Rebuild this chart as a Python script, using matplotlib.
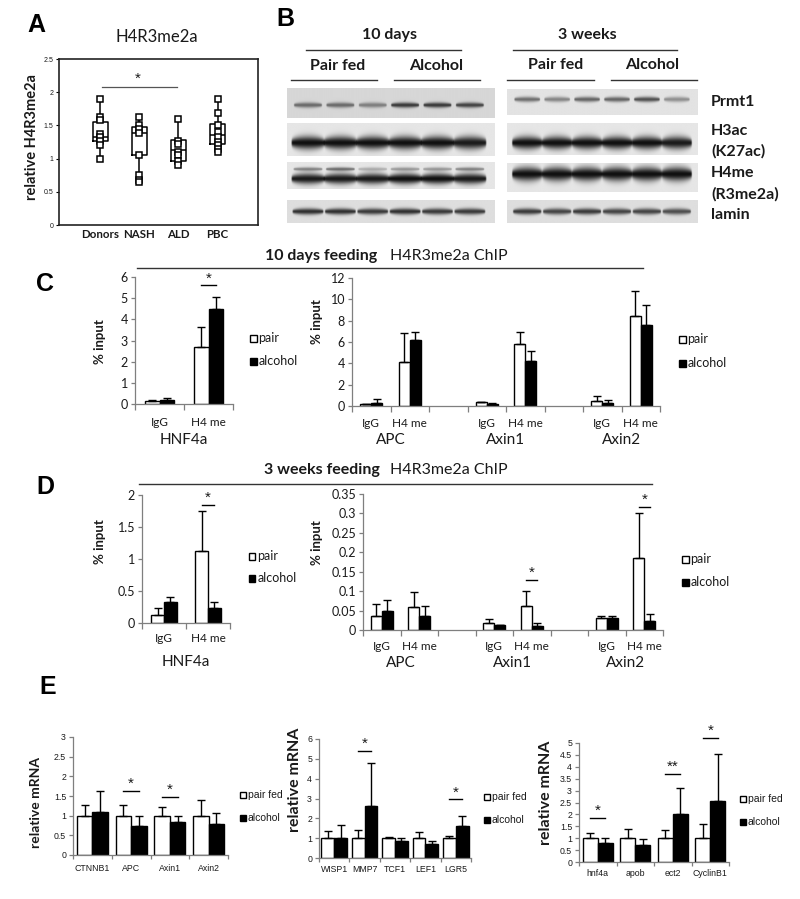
import numpy as np
import matplotlib
matplotlib.use('Agg')
import matplotlib.pyplot as plt
from matplotlib.lines import Line2D
from matplotlib.patches import Rectangle
from matplotlib.transforms import blended_transform_factory as btf

plt.rcParams['font.family'] = ['Lato', 'DejaVu Sans']

# ---------------- DATA ----------------
# Panel A: H4R3me2a box plots
A_groups = ['Donors', 'NASH', 'ALD', 'PBC']
A_donors = [1.9, 1.62, 1.58, 1.37, 1.32, 1.27, 1.2, 1.0]
A_nash = [1.62, 1.5, 1.45, 1.38, 1.05, 0.75, 0.68, 0.65]
A_ald = [1.6, 1.27, 1.22, 1.1, 1.05, 0.97, 0.9]
A_pbc = [1.9, 1.68, 1.5, 1.4, 1.33, 1.25, 1.2, 1.15, 1.1]
A_q1 = [1.27, 1.05, 0.97, 1.22]
A_med = [1.32, 1.38, 1.13, 1.36]
A_q3 = [1.55, 1.48, 1.28, 1.52]

# Panel B: western blot band intensities (6 lanes: 3 pair fed, 3 alcohol)
B_prmt1_10d = [0.55, 0.55, 0.45, 0.8, 0.8, 0.75]
B_prmt1_3w = [0.55, 0.45, 0.6, 0.6, 0.7, 0.4]
B_h3ac_10d = [1.0, 1.0, 1.0, 1.0, 1.0, 0.95]
B_h3ac_3w = [1.0, 1.0, 1.0, 1.0, 1.0, 0.95]
B_h4me_10d = [0.95, 0.95, 0.95, 1.0, 1.0, 0.95]
B_h4me_10d_upper = [0.45, 0.55, 0.25, 0.35, 0.35, 0.45]
B_h4me_3w = [1.0, 1.0, 1.0, 1.0, 1.0, 1.0]
B_lamin_10d = [0.85, 0.85, 0.8, 0.85, 0.8, 0.8]
B_lamin_3w = [0.8, 0.75, 0.8, 0.75, 0.75, 0.7]

# Panel C: 10 days feeding ChIP (% input)
CD_slots = ['IgG', 'H4 me']
C1_pair = [0.15, 2.7]
C1_pair_err = [0.05, 0.95]
C1_alc = [0.17, 4.5]
C1_alc_err = [0.1, 0.55]
C1_sig = [(1, 5.6, '*')]

C2_genes = ['APC', 'Axin1', 'Axin2']
C2_pair = [0.15, 4.1, 0.35, 5.8, 0.45, 8.4]
C2_pair_err = [0.0, 2.75, 0.0, 1.1, 0.5, 2.4]
C2_alc = [0.3, 6.2, 0.2, 4.2, 0.3, 7.55]
C2_alc_err = [0.35, 0.7, 0.1, 1.0, 0.3, 1.9]

# Panel D: 3 weeks feeding ChIP (% input)
D1_pair = [0.13, 1.13]
D1_pair_err = [0.11, 0.62]
D1_alc = [0.33, 0.23]
D1_alc_err = [0.08, 0.1]
D1_sig = [(1, 1.85, '*')]

D2_genes = ['APC', 'Axin1', 'Axin2']
D2_pair = [0.035, 0.06, 0.018, 0.062, 0.03, 0.185]
D2_pair_err = [0.032, 0.037, 0.011, 0.038, 0.006, 0.115]
D2_alc = [0.05, 0.035, 0.012, 0.01, 0.03, 0.022]
D2_alc_err = [0.026, 0.027, 0.002, 0.007, 0.005, 0.02]
D2_sig = [(3, 0.128, '*'), (5, 0.317, '*')]

# Panel E: relative mRNA
E1_genes = ['CTNNB1', 'APC', 'Axin1', 'Axin2']
E1_pair = [1.0, 1.0, 1.0, 1.0]
E1_pair_err = [0.27, 0.28, 0.22, 0.4]
E1_alc = [1.1, 0.75, 0.83, 0.78]
E1_alc_err = [0.52, 0.23, 0.17, 0.29]
E1_sig = [(1, 1.62, '*'), (2, 1.47, '*')]

E2_genes = ['WISP1', 'MMP7', 'TCF1', 'LEF1', 'LGR5']
E2_pair = [1.0, 1.0, 1.0, 1.0, 1.0]
E2_pair_err = [0.35, 0.43, 0.08, 0.3, 0.1]
E2_alc = [1.02, 2.62, 0.87, 0.73, 1.6]
E2_alc_err = [0.66, 2.16, 0.13, 0.12, 0.52]
E2_sig = [(1, 5.4, '*'), (4, 2.95, '*')]

E3_genes = ['hnf4a', 'apob', 'ect2', 'CyclinB1']
E3_pair = [1.0, 1.0, 1.0, 1.0]
E3_pair_err = [0.2, 0.38, 0.35, 0.58]
E3_alc = [0.78, 0.7, 2.02, 2.55]
E3_alc_err = [0.22, 0.27, 1.1, 2.0]
E3_sig = [(0, 1.85, '*'), (2, 3.7, '**'), (3, 5.2, '*')]

# ---------------- LAYOUT HELPERS ----------------
W, H = 800, 899
fig = plt.figure(figsize=(W / 100, H / 100), dpi=100)
TXT = '#1a1a1a'
AXC = '#7f7f7f'
ARIAL = ['Liberation Sans', 'DejaVu Sans']


def add_ax(l, t, r, b):
    return fig.add_axes([l / W, 1 - b / H, (r - l) / W, (b - t) / H])


def ftext(x, y, s, **kw):
    kw.setdefault('color', TXT)
    fig.text(x / W, 1 - y / H, s, **kw)


def fline(x0, x1, y, color='#333333', lw=1.0):
    fig.add_artist(Line2D([x0 / W, x1 / W], [1 - y / H, 1 - y / H],
                          transform=fig.transFigure, color=color, lw=lw))


def legend_sq(x, y, labels, fs, sq=7, gap=23, fam=None):
    # two-item legend: open square (pair) and filled square (alcohol)
    for i, (lab, fc) in enumerate(zip(labels, ['white', 'black'])):
        yy = y + i * gap
        fig.add_artist(Rectangle(((x - sq / 2) / W, 1 - (yy + sq / 2) / H), sq / W, sq / H,
                                 transform=fig.transFigure, facecolor=fc,
                                 edgecolor='black', lw=1))
        kw = {} if fam is None else {'family': fam}
        ftext(x + sq / 2 + 2, yy, lab, fontsize=fs, va='center', ha='left', **kw)


def letter(x, y, s):
    ftext(x, y, s, fontsize=18, fontweight='bold', family=ARIAL,
          ha='center', va='center', color='black')


def style_axes(ax, nslots, ylim, yticks, ylabels, fs, tick_fs, pad, fam=None):
    ax.set_xlim(0, nslots)
    ax.set_ylim(*ylim)
    for s in ['top', 'right']:
        ax.spines[s].set_visible(False)
    for s in ['left', 'bottom']:
        ax.spines[s].set_color(AXC)
        ax.spines[s].set_linewidth(0.9)
    ax.set_yticks(yticks)
    ax.set_yticklabels(ylabels, fontsize=fs, color=TXT, family=fam)
    ax.tick_params(axis='y', length=3, color=AXC, width=0.9, pad=2)
    ax.set_xticks(np.arange(nslots + 1))
    ax.set_xticklabels([])
    ax.tick_params(axis='x', which='major', length=4, color=AXC, width=0.9)
    ax.tick_params(axis='x', which='minor', length=0, pad=pad, labelsize=tick_fs,
                   labelcolor=TXT)
    ax.patch.set_alpha(0)


def draw_bars(ax, xc, pair, perr, alc, aerr, w):
    xc = np.asarray(xc, dtype=float)
    xp, xa = xc - w / 2, xc + w / 2
    z = np.zeros(len(xc))
    ax.bar(xp, pair, w, color='white', edgecolor='black', lw=1, zorder=2)
    ax.bar(xa, alc, w, color='black', edgecolor='black', lw=1, zorder=2)
    ax.errorbar(xp, pair, yerr=[z, perr], fmt='none', ecolor='black',
                elinewidth=1, capsize=3, capthick=1, zorder=3)
    ax.errorbar(xa, alc, yerr=[z, aerr], fmt='none', ecolor='black',
                elinewidth=1, capsize=3, capthick=1, zorder=3)
    return xp, xa


def draw_sig(ax, xp, xa, sig, fs=11, off=0):
    for i, yv, lab in sig:
        ax.plot([xp[i], xa[i]], [yv, yv], color='black', lw=1, clip_on=False)
        ax.annotate(lab, (0.5 * (xp[i] + xa[i]), yv), xytext=(0, off),
                    textcoords='offset points', ha='center', va='bottom',
                    fontsize=fs, color=TXT, annotation_clip=False, family=ARIAL)


def chip_panel(rect, genes, pair, perr, alc, aerr, ylim, yticks, ylabels,
               sig, pad, label_y, w=0.29):
    ax = add_ax(*rect)
    n = len(pair) // 2
    nslots = 3 * n - 1
    xc = [3 * (k // 2) + (k % 2) + 0.5 for k in range(len(pair))]
    style_axes(ax, nslots, ylim, yticks, ylabels, 9, 8.5, pad)
    ax.set_xticks(xc, minor=True)
    ax.set_xticklabels([CD_slots[k % 2] for k in range(len(pair))], minor=True)
    xp, xa = draw_bars(ax, xc, pair, perr, alc, aerr, w)
    draw_sig(ax, xp, xa, sig)
    tr = btf(ax.transData, fig.transFigure)
    for g, name in enumerate(genes):
        ax.text(3 * g + 1, 1 - label_y / H, name, transform=tr, ha='center',
                va='center', fontsize=11, color=TXT)
    return ax


def mrna_panel(rect, genes, pair, perr, alc, aerr, ylim, yticks, ylabels,
               sig, pad, w):
    ax = add_ax(*rect)
    n = len(genes)
    xc = np.arange(n) + 0.5
    style_axes(ax, n, ylim, yticks, ylabels, 6.3, 6.3, pad, fam=ARIAL)
    ax.set_xticks(xc, minor=True)
    ax.set_xticklabels(genes, minor=True, family=ARIAL)
    ax.tick_params(axis='x', which='major', length=3)
    xp, xa = draw_bars(ax, xc, pair, perr, alc, aerr, w)
    draw_sig(ax, xp, xa, sig, fs=11, off=0)
    return ax


def fmt(v):
    return '%g' % v


# ---------------- PANEL A ----------------
letter(36, 25, 'A')
ftext(157, 37, 'H4R3me2a', fontsize=12, ha='center', va='center')
axA = add_ax(59, 59, 258, 225)
A_sets = [A_donors, A_nash, A_ald, A_pbc]
stats = []
for k, pts in enumerate(A_sets):
    stats.append(dict(med=A_med[k], q1=A_q1[k], q3=A_q3[k],
                      whislo=min(pts), whishi=max(pts), label=A_groups[k]))
pos = np.arange(1, 5)
axA.bxp(stats, positions=pos, widths=0.38, showfliers=False, showcaps=False,
        boxprops=dict(color='black', lw=1.1), whiskerprops=dict(color='black', lw=1.1),
        medianprops=dict(color='black', lw=1.1))
for k, pts in enumerate(A_sets):
    axA.plot([pos[k]] * len(pts), pts, ls='none', marker='s', ms=4.5, mfc='white',
             mec='black', mew=1.1, zorder=3)
axA.set_xlim(-0.05, 5.03)
axA.set_ylim(0, 2.5)
axA.set_yticks([0, 0.5, 1, 1.5, 2, 2.5])
axA.set_yticklabels(['0', '0.5', '1', '1.5', '2', '2.5'], fontsize=5, family=ARIAL,
                    color=TXT)
axA.set_xticks(pos)
axA.set_xticklabels(A_groups, fontsize=8.3, fontweight='bold', color=TXT)
axA.tick_params(axis='x', length=0, pad=3)
axA.tick_params(axis='y', length=2, pad=2)
for s in axA.spines.values():
    s.set_color('#222222')
    s.set_linewidth(1.2)
axA.plot([1.05, 2.95], [2.08, 2.08], color='#555555', lw=0.9)
axA.text(1.95, 2.1, '*', ha='center', va='bottom', fontsize=11, color=TXT, family=ARIAL)
ftext(32, 137, 'relative H4R3me2a', fontsize=10.5, fontweight='bold', rotation=90,
      ha='center', va='center')

# ---------------- PANEL B ----------------
letter(285, 19, 'B')


def blot(rect, lane_x, rows, bg):
    ax = add_ax(*rect)
    h, w = 90, 420
    yy = np.linspace(0, 1, h)[:, None]
    xx = np.linspace(0, 1, w)[None, :]
    total = np.zeros((h, w))
    for inten, c, s, hw in rows:
        for i, v in enumerate(inten):
            dx = (xx - lane_x[i]) / hw
            shape = np.sqrt(np.clip(1 - dx ** 2, 0, None))
            t = s * (0.35 + 0.65 * shape) + 1e-4
            total += v * np.clip(shape * 3, 0, 1) * np.exp(-((yy - c) / t) ** 2)
    img = bg * (1 - 0.93 * np.clip(total, 0, 1))
    ax.imshow(img, cmap='gray', vmin=0, vmax=1, aspect='auto', extent=(0, 1, 1, 0),
              interpolation='bilinear')
    ax.set_axis_off()


lanesL = [0.1 + 0.156 * i for i in range(6)]
lanesR = [0.105 + 0.157 * i for i in range(6)]
blot((287, 88, 495, 118), lanesL, [(B_prmt1_10d, 0.57, 0.09, 0.068)], 0.84)
blot((507, 89, 697, 115), lanesR, [(B_prmt1_3w, 0.42, 0.1, 0.068)], 0.89)
blot((287, 123, 495, 156), lanesL, [(B_h3ac_10d, 0.6, 0.2, 0.08)], 0.9)
blot((507, 123, 697, 155), lanesR, [(B_h3ac_3w, 0.62, 0.2, 0.08)], 0.9)
blot((287, 162, 495, 189), lanesL, [(B_h4me_10d_upper, 0.26, 0.07, 0.07),
                                    (B_h4me_10d, 0.62, 0.2, 0.08)], 0.9)
blot((507, 163, 697, 192), lanesR, [(B_h4me_3w, 0.38, 0.24, 0.08)], 0.9)
blot((287, 200, 495, 223), lanesL, [(B_lamin_10d, 0.5, 0.14, 0.075)], 0.87)
blot((507, 200, 697, 223), lanesR, [(B_lamin_3w, 0.5, 0.14, 0.075)], 0.87)

ftext(390, 35, '10 days', fontsize=11.5, fontweight='bold', ha='center', va='center')
fline(306, 461, 50)
ftext(338, 66, 'Pair fed', fontsize=11.5, fontweight='bold', ha='center', va='center')
ftext(436, 66, 'Alcohol', fontsize=11.5, fontweight='bold', ha='center', va='center')
fline(291, 377, 80)
fline(394, 480, 80)
ftext(587, 35, '3 weeks', fontsize=11.5, fontweight='bold', ha='center', va='center')
fline(513, 677, 50)
ftext(556, 65, 'Pair fed', fontsize=11.5, fontweight='bold', ha='center', va='center')
ftext(652, 65, 'Alcohol', fontsize=11.5, fontweight='bold', ha='center', va='center')
fline(507, 594, 80)
fline(611, 697, 80)
for txt, yv in [('Prmt1', 102), ('H3ac', 131), ('(K27ac)', 151), ('H4me', 173),
                ('(R3me2a)', 194), ('lamin', 215)]:
    ftext(711, yv, txt, fontsize=11.5, fontweight='bold', ha='left', va='center')

# ---------------- PANEL C ----------------
letter(45, 284, 'C')
ftext(377, 256, '10 days feeding', fontsize=11.5, fontweight='bold', ha='right', va='center')
ftext(390, 256, 'H4R3me2a ChIP', fontsize=11.5, ha='left', va='center')
fline(137, 643, 268)
chip_panel((135, 277, 233, 404), ['HNF4a'], C1_pair, C1_pair_err, C1_alc, C1_alc_err,
           (0, 6), np.arange(0, 7), [str(v) for v in range(7)], C1_sig, 9.5, 440)
ftext(100, 342, '% input', fontsize=9.5, fontweight='bold', rotation=90, ha='center', va='center')
legend_sq(253, 338, ['pair', 'alcohol'], 9)

chip_panel((352, 278, 660, 406), C2_genes, C2_pair, C2_pair_err, C2_alc, C2_alc_err,
           (0, 12), np.arange(0, 13, 2), [str(v) for v in range(0, 13, 2)], [], 8.6, 440)
ftext(317, 322, '% input', fontsize=9.5, fontweight='bold', rotation=90, ha='center', va='center')
legend_sq(682, 339, ['pair', 'alcohol'], 9, gap=24)

# ---------------- PANEL D ----------------
letter(45, 487, 'D')
ftext(380, 470, '3 weeks feeding', fontsize=11.5, fontweight='bold', ha='right', va='center')
ftext(390, 470, 'H4R3me2a ChIP', fontsize=11.5, ha='left', va='center')
fline(139, 652, 484)
d1t = np.arange(0, 2.01, 0.5)
chip_panel((142, 495, 230, 623), ['HNF4a'], D1_pair, D1_pair_err, D1_alc, D1_alc_err,
           (0, 2), d1t, [fmt(v) for v in d1t], D1_sig, 7.5, 662)
ftext(100, 542, '% input', fontsize=9.5, fontweight='bold', rotation=90, ha='center', va='center')
legend_sq(252, 556, ['pair', 'alcohol'], 9, gap=22)

d2t = np.round(np.arange(0, 0.351, 0.05), 2)
chip_panel((363, 494, 663, 630), D2_genes, D2_pair, D2_pair_err, D2_alc, D2_alc_err,
           (0, 0.35), d2t, [fmt(v) for v in d2t], D2_sig, 8, 663)
ftext(317, 543, '% input', fontsize=9.5, fontweight='bold', rotation=90, ha='center', va='center')
legend_sq(685, 559, ['pair', 'alcohol'], 9, gap=23)

# ---------------- PANEL E ----------------
letter(48, 687, 'E')
e1t = np.arange(0, 3.01, 0.5)
mrna_panel((73, 737, 228, 855), E1_genes, E1_pair, E1_pair_err, E1_alc, E1_alc_err,
           (0, 3), e1t, [fmt(v) for v in e1t], E1_sig, 6.5, 0.4)
ftext(36, 803, 'relative mRNA', fontsize=10, fontweight='bold', rotation=90, ha='center', va='center')
legend_sq(243, 795, ['pair fed', 'alcohol'], 7.5, sq=6, gap=23, fam=ARIAL)

e2t = np.arange(0, 7)
mrna_panel((319, 739, 471, 858), E2_genes, E2_pair, E2_pair_err, E2_alc, E2_alc_err,
           (0, 6), e2t, [str(v) for v in e2t], E2_sig, 5, 0.42)
ftext(295, 780, 'relative mRNA', fontsize=11.5, fontweight='bold', rotation=90, ha='center', va='center')
legend_sq(487, 797, ['pair fed', 'alcohol'], 7.5, sq=6, gap=23, fam=ARIAL)

e3t = np.arange(0, 5.01, 0.5)
mrna_panel((579, 743, 729, 862), E3_genes, E3_pair, E3_pair_err, E3_alc, E3_alc_err,
           (0, 5), e3t, [fmt(v) for v in e3t], E3_sig, 5, 0.4)
ftext(546, 793, 'relative mRNA', fontsize=11.5, fontweight='bold', rotation=90, ha='center', va='center')
legend_sq(743, 799, ['pair fed', 'alcohol'], 7.5, sq=6, gap=23, fam=ARIAL)

fig.savefig('out.png', dpi=100, facecolor='white')
